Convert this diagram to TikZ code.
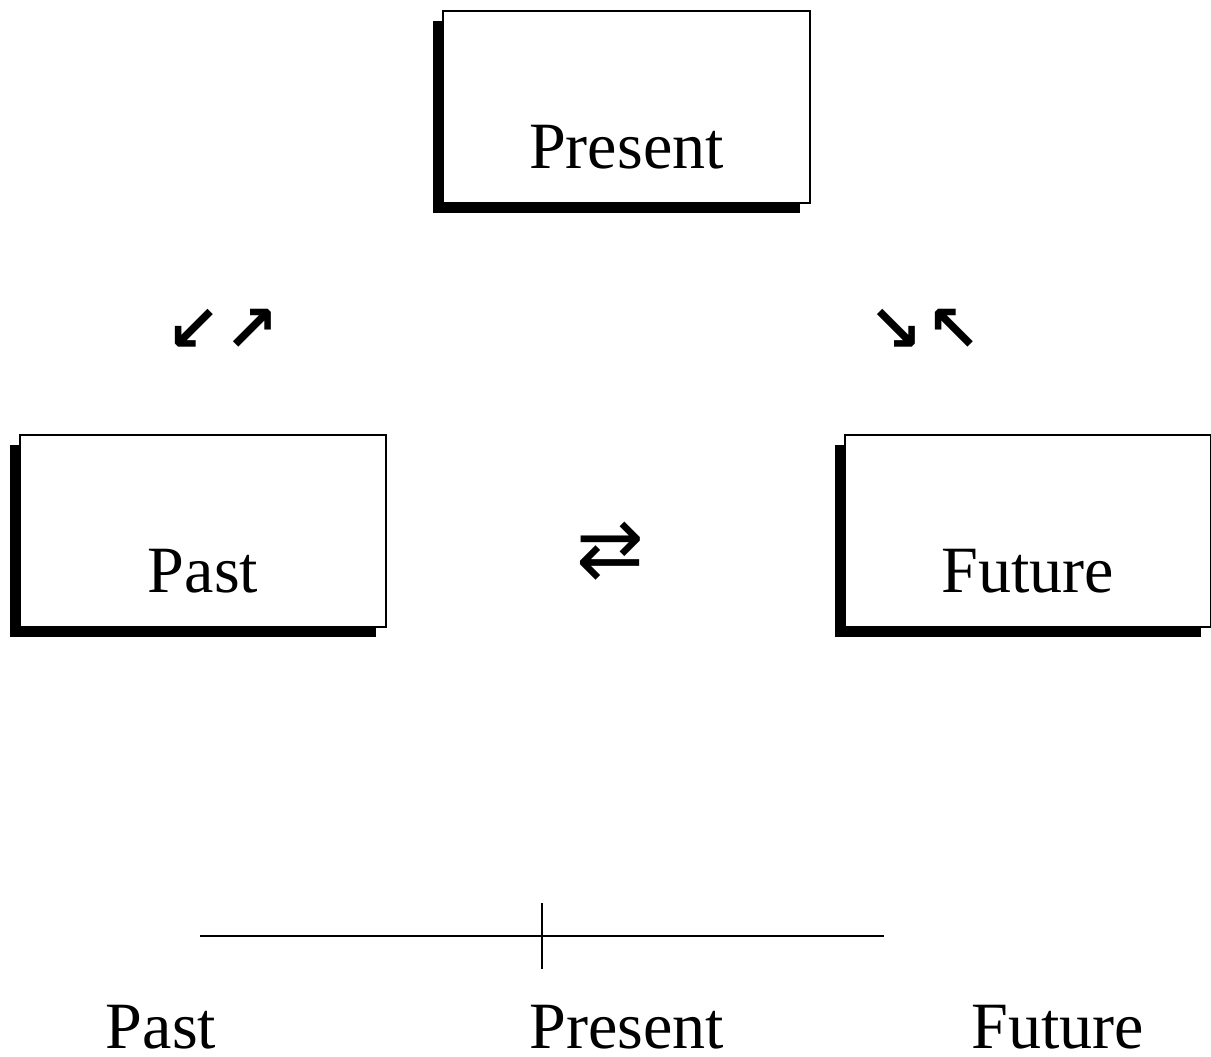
\documentclass[tikz,border=0pt]{standalone}
\usepackage{fontspec}
\setmainfont{Liberation Serif}
\newfontfamily\arrowfont{DejaVu Sans}
\usetikzlibrary{shadows}

\tikzset{
  era/.style={draw, line width=0.6pt, fill=white, minimum width=3.66cm,
    inner xsep=0pt, inner ysep=0pt, text height=1.57cm, text depth=0.35cm,
    drop shadow={shadow xshift=-0.1cm, shadow yshift=-0.1cm, fill=black, opacity=1},
    font=\fontsize{18.8}{22}\selectfont},
  arrowpair/.style={font=\arrowfont\bfseries\fontsize{18.5}{20}\selectfont, inner sep=0pt},
  timelabel/.style={font=\fontsize{18.8}{22}\selectfont, anchor=base, inner sep=0pt}
}

\begin{document}
\begin{tikzpicture}[x=0.01cm,y=0.01cm]
\useasboundingbox (0,0) rectangle (1211,1057);
\node (present) [era] at (626.5,950) {Present};
\node (past)    [era] at (203,526)   {Past};
\node (future)  [era] at (1028,526)  {Future};
\node (pastarrows)   [arrowpair] at (223,727) {↙\hspace{0.05em}↗};
\node (futurearrows) [arrowpair] at (925,727) {↘\hspace{0.05em}↖};
\node (swap) [inner sep=0pt,font=\arrowfont\fontsize{23}{25}\selectfont] at (610,506) {⇄};
% time line
\coordinate (tstart) at (200,121);
\coordinate (tend)   at (884,121);
\coordinate (now)    at (542,121);
\draw[line width=0.4pt] (tstart) -- (tend)
    (now) +(0,33) -- +(0,-33);
\node (tpast)    [timelabel] at (161,8)  {Past};
\node (tpresent) [timelabel] at (627,8)  {Present};
\node (tfuture)  [timelabel] at (1058,8) {Future};
\end{tikzpicture}
\end{document}
